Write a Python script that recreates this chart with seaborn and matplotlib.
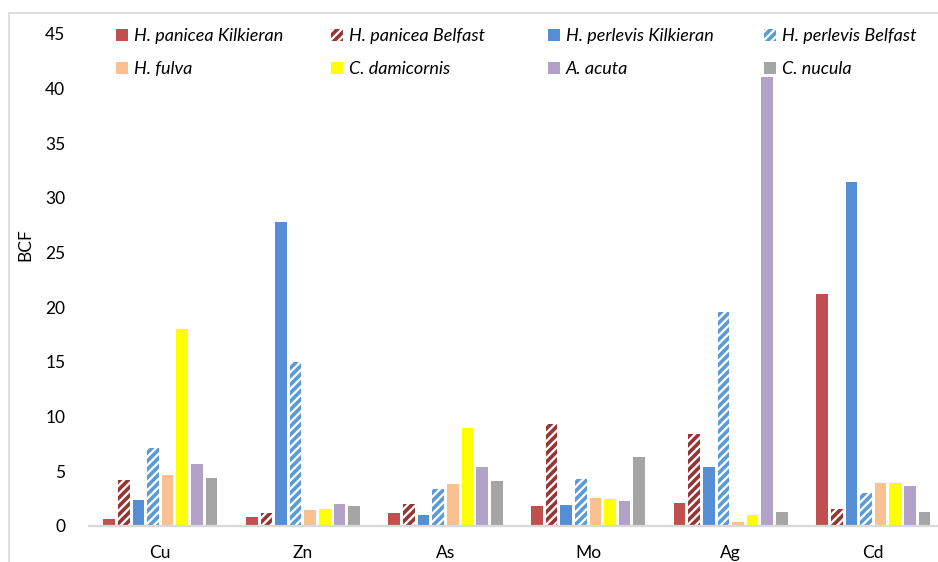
import numpy as np
import pandas as pd
import matplotlib
matplotlib.use("Agg")
import matplotlib.pyplot as plt
import matplotlib.patches as mpatches
import seaborn as sns

# data
metals = ["Cu", "Zn", "As", "Mo", "Ag", "Cd"]
species = ["H. panicea Kilkieran", "H. panicea Belfast", "H. perlevis Kilkieran",
           "H. perlevis Belfast", "H. fulva", "C. damicornis", "A. acuta", "C. nucula"]
hp_kilkieran = [0.6, 0.8, 1.2, 1.85, 2.1, 21.2]
hp_belfast = [4.2, 1.15, 2.0, 9.3, 8.4, 1.6]
hpe_kilkieran = [2.4, 27.8, 1.0, 1.9, 5.4, 31.5]
hpe_belfast = [7.1, 15.0, 3.4, 4.3, 19.6, 3.05]
h_fulva = [4.7, 1.5, 3.8, 2.6, 0.35, 3.9]
c_damicornis = [18.0, 1.55, 9.0, 2.45, 1.05, 3.9]
a_acuta = [5.7, 2.0, 5.4, 2.3, 41.1, 3.7]
c_nucula = [4.4, 1.8, 4.1, 6.3, 1.25, 1.3]

series = [hp_kilkieran, hp_belfast, hpe_kilkieran, hpe_belfast,
          h_fulva, c_damicornis, a_acuta, c_nucula]
colors = ["#C0504D", "#FFFFFF", "#558ED5", "#FFFFFF",
          "#FAC090", "#FFFF00", "#B3A2C7", "#A5A5A5"]
hatch_colors = {1: "#943634", 3: "#5B9BD5"}

df = pd.DataFrame([(m, s, v) for s, vals in zip(species, series)
                   for m, v in zip(metals, vals)], columns=["metal", "species", "BCF"])

plt.rcParams["font.family"] = ["Lato", "DejaVu Sans"]
plt.rcParams["hatch.linewidth"] = 2.6

fig = plt.figure(figsize=(9.38, 5.62), dpi=100)
ax = fig.add_axes([89 / 938, 36 / 562, 855.6 / 938, 492 / 562])

sns.barplot(data=df, x="metal", y="BCF", hue="species", order=metals,
            hue_order=species, palette=colors, saturation=1, width=0.82, gap=0.2,
            errorbar=None, linewidth=0, ax=ax, legend=False)

# hatched series
for i, cont in enumerate(ax.containers):
    if i in hatch_colors:
        for p in cont:
            p.set_facecolor("white")
            p.set_edgecolor(hatch_colors[i])
            p.set_hatch("////")
            p.set_linewidth(0)

ax.set_xlim(-0.5, 5.5)
ax.set_ylim(0, 45)
ax.set_yticks(np.arange(0, 46, 5))
ax.tick_params(axis="both", length=0, labelsize=12.5, colors="black")
ax.tick_params(axis="y", pad=17)
ax.tick_params(axis="x", pad=14)
for s in ["top", "right", "left"]:
    ax.spines[s].set_visible(False)
ax.spines["bottom"].set_color("#D9D9D9")
ax.spines["bottom"].set_linewidth(1.6)
ax.set_xlabel("")
ax.set_ylabel("BCF", fontsize=12.5)
ax.yaxis.set_label_coords(-0.0655, 0.571)

# legend: four columns placed like the original
handles = []
for i, sp in enumerate(species):
    if i in hatch_colors:
        h = mpatches.Patch(facecolor="white", edgecolor=hatch_colors[i], hatch="////", linewidth=0)
    else:
        h = mpatches.Patch(facecolor=colors[i], linewidth=0)
    handles.append(h)

col_x = [107, 322, 539, 755]
for j, x0 in enumerate(col_x):
    fig.legend([handles[j], handles[j + 4]], [species[j], species[j + 4]],
               loc="upper left", bbox_to_anchor=(x0 / 938, 1 - 19 / 562),
               frameon=False, handlelength=0.65, handleheight=0.65,
               handletextpad=0.35, labelspacing=0.95, borderpad=0,
               prop={"style": "italic", "size": 13})

# chart frame
fig.add_artist(mpatches.Rectangle((9 / 938, -0.1), 1.2, (562 - 13) / 562 + 0.1,
                                  transform=fig.transFigure, fill=False,
                                  edgecolor="#D9D9D9", linewidth=1.2))

fig.savefig("out.png", dpi=100)
